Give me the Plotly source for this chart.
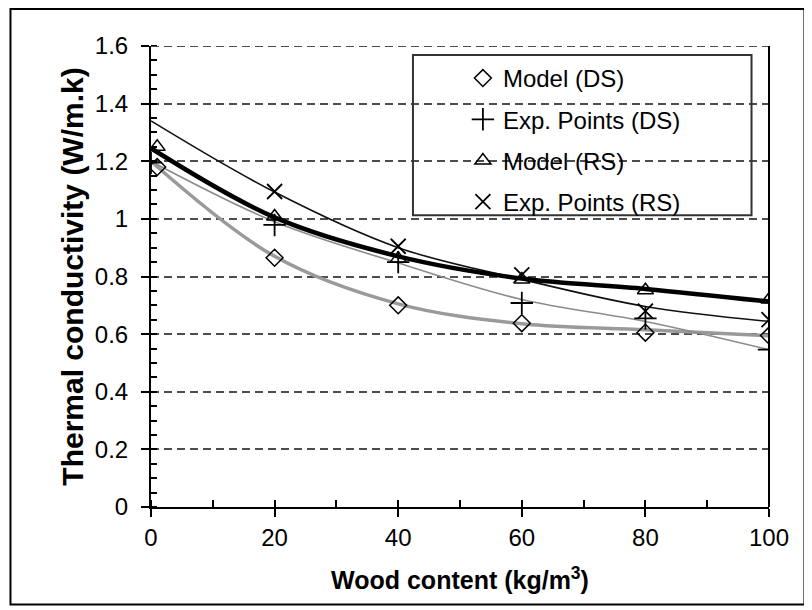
import plotly.graph_objects as go

# ---- data ----
x_model = [1, 20, 40, 60, 80, 100]
model_ds = [1.18, 0.865, 0.70, 0.638, 0.605, 0.595]
model_rs = [1.25, 1.008, 0.862, 0.79, 0.752, 0.72]

x_exp_ds = [0, 20, 40, 60, 80, 100]
exp_ds = [1.195, 0.979, 0.85, 0.708, 0.655, 0.546]

x_exp_rs = [20, 40, 60, 80, 100]
exp_rs = [1.095, 0.905, 0.806, 0.68, 0.65]

# curves (as drawn in the reference)
x_curve = [0, 20, 40, 60, 80, 100]
curve_model_ds = [1.20, 0.87, 0.705, 0.636, 0.615, 0.594]
curve_model_rs = [1.245, 1.005, 0.87, 0.793, 0.757, 0.713]
trend_exp_ds = [1.20, 0.99, 0.847, 0.72, 0.644, 0.546]
trend_exp_rs = [1.34, 1.093, 0.90, 0.79, 0.696, 0.644]

x_ticks = [0, 20, 40, 60, 80, 100]
y_ticks = [0, 0.2, 0.4, 0.6, 0.8, 1, 1.2, 1.4, 1.6]
y_tick_text = ["0", "0.2", "0.4", "0.6", "0.8", "1", "1.2", "1.4", "1.6"]

FONT = "Liberation Sans, Arial, Helvetica, sans-serif"

fig = go.Figure()

# curves (no legend)
fig.add_trace(go.Scatter(x=x_curve, y=curve_model_ds, mode="lines",
                         line=dict(color="#9a9a9a", width=3.5, shape="spline"),
                         showlegend=False, hoverinfo="skip"))
fig.add_trace(go.Scatter(x=x_curve, y=trend_exp_ds, mode="lines",
                         line=dict(color="#8c8c8c", width=1.6, shape="spline"),
                         showlegend=False, hoverinfo="skip"))
fig.add_trace(go.Scatter(x=x_curve, y=trend_exp_rs, mode="lines",
                         line=dict(color="#111111", width=1.6, shape="spline"),
                         showlegend=False, hoverinfo="skip"))
fig.add_trace(go.Scatter(x=x_curve, y=curve_model_rs, mode="lines",
                         line=dict(color="#000000", width=4.5, shape="spline"),
                         showlegend=False, hoverinfo="skip"))

# markers (legend entries)
fig.add_trace(go.Scatter(x=x_model, y=model_ds, mode="markers", name="Model (DS)",
                         legendgroup="a",
                         marker=dict(symbol="diamond-open", size=13, color="#000",
                                     line=dict(width=1.5, color="#000"))))
fig.add_trace(go.Scatter(x=x_exp_ds, y=exp_ds, mode="markers", name="Exp. Points (DS)",
                         legendgroup="b",
                         marker=dict(symbol="cross-thin-open", size=16, color="#000",
                                     line=dict(width=1.8, color="#000"))))
fig.add_trace(go.Scatter(x=x_model, y=model_rs, mode="markers", name="Model (RS)",
                         legendgroup="c",
                         marker=dict(symbol="triangle-up-open", size=14, color="#000",
                                     line=dict(width=1.5, color="#000"))))
fig.add_trace(go.Scatter(x=x_exp_rs, y=exp_rs, mode="markers", name="Exp. Points (RS)",
                         legendgroup="d",
                         marker=dict(symbol="x-thin-open", size=15, color="#000",
                                     line=dict(width=1.8, color="#000"))))

# the page body has an 8px margin: work in figure coordinates (page - 8)
OFF = 8
W, H = 804, 602
L = 150.7 - OFF
R = W - (769.5 - OFF)
T = 46 - OFF
B = H - (507.5 - OFF)
pw = W - L - R
ph = H - T - B

def px(xp):
    return (xp - OFF - L) / pw

def py(yp):
    return (H - B - (yp - OFF)) / ph

fig.update_layout(
    width=W, height=H,
    margin=dict(l=L, r=R, t=T, b=B, pad=0),
    paper_bgcolor="white", plot_bgcolor="white",
    font=dict(family=FONT, color="#000", size=22),
    showlegend=True,
    legend=dict(x=px(463), y=py(56), xanchor="left", yanchor="top",
                bgcolor="rgba(0,0,0,0)", borderwidth=0,
                font=dict(size=24, family=FONT, color="#000"),
                tracegroupgap=7, itemsizing="trace"),
    xaxis=dict(range=[0, 100], tickvals=x_ticks, ticktext=[str(v) for v in x_ticks],
               showgrid=False, zeroline=False,
               showline=True, linecolor="#000", linewidth=2,
               ticks="outside", ticklen=8, tickwidth=1.5, tickcolor="#000",
               minor=dict(dtick=10, ticks="inside", ticklen=7, tickwidth=1.5, tickcolor="#000"),
               tickfont=dict(size=24, family=FONT),
               title=dict(text="<b>Wood content (kg/m<sup>3</sup>)</b>",
                          font=dict(size=25, family=FONT), standoff=22)),
    yaxis=dict(range=[0, 1.6], tickvals=y_ticks, ticktext=y_tick_text,
               showgrid=True, gridcolor="#4d4d4d", gridwidth=2, griddash="8px,5px",
               zeroline=False,
               showline=True, linecolor="#000", linewidth=2,
               ticks="outside", ticklen=8, tickwidth=1.5, tickcolor="#000",
               ticklabelstandoff=8,
               minor=dict(dtick=0.05, ticks="inside", ticklen=6, tickwidth=1.5, tickcolor="#000",
                          showgrid=False),
               tickfont=dict(size=24, family=FONT),
               title=dict(text="<b>Thermal conductivity (W/m.k)</b>",
                          font=dict(size=30, family=FONT), standoff=2)),
    shapes=[
        # dashed top gridline at 1.6
        dict(type="line", xref="x domain", yref="y", x0=0, x1=1, y0=1.6, y1=1.6,
             line=dict(color="#4d4d4d", width=2, dash="8px,5px")),
        # right frame line of the plot area
        dict(type="line", xref="x domain", yref="y domain", x0=1, x1=1, y0=0, y1=1,
             line=dict(color="#000", width=2)),
        # legend box
        dict(type="rect", xref="paper", yref="paper",
             x0=px(413), x1=px(752), y0=py(55), y1=py(215.5),
             line=dict(color="#333", width=2), fillcolor="rgba(0,0,0,0)", layer="above"),
        # outer border
        dict(type="rect", xref="paper", yref="paper",
             x0=px(10), x1=px(805), y0=py(9), y1=py(605),
             line=dict(color="#000", width=2), fillcolor="rgba(0,0,0,0)"),
    ],
)

fig.write_html("out.html")
